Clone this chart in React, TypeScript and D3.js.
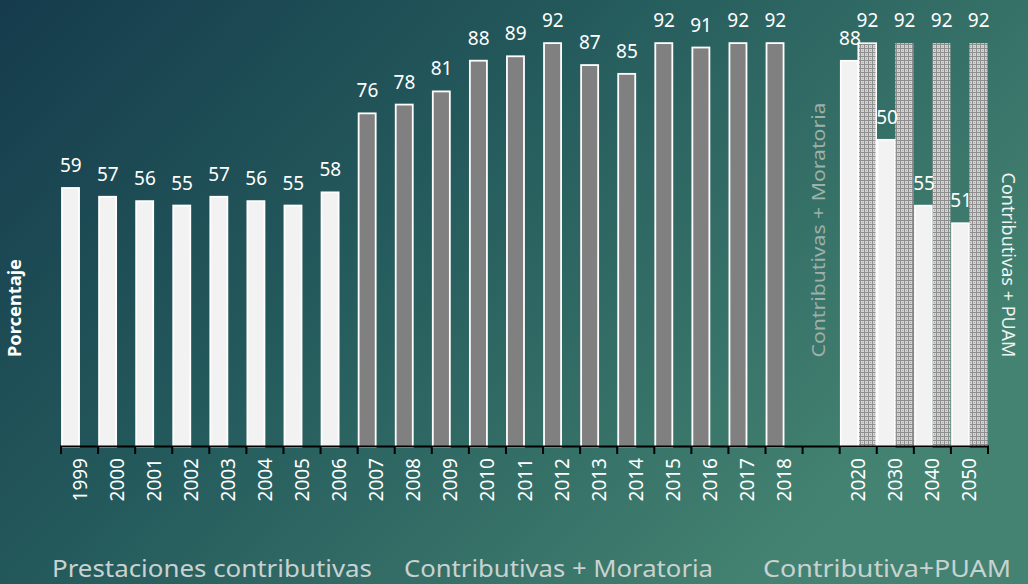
import React from "react";
import * as d3 from "d3";

const histYears = ["1999","2000","2001","2002","2003","2004","2005","2006","2007","2008","2009","2010","2011","2012","2013","2014","2015","2016","2017","2018"];
const histValues = [59,57,56,55,57,56,55,58,76,78,81,88,89,92,87,85,92,91,92,92];
const histPeriod = ["c","c","c","c","c","c","c","c","m","m","m","m","m","m","m","m","m","m","m","m"];
const projYears = ["2020","2030","2040","2050"];
const projMoratoria = [88,70,55,51];
const projMoratoriaLabels = ["88","50","55","51"];
const projPuam = [92,92,92,92];
const categories = [...histYears, "", ...projYears];
const yDomain = [0, 100];
const bottomLabels = ["Prestaciones contributivas", "Contributivas + Moratoria", "Contributiva+PUAM"];

export default function App() {
  const W = 1028, H = 584;
  const x = d3.scaleBand<string>().domain(categories).range([61, 988]).padding(0);
  const y = d3.scaleLinear().domain(yDomain).range([447, 8]);
  const bw = x.bandwidth();
  const half = bw / 2;
  const font = "'Noto Sans', 'Open Sans', sans-serif";

  const histBars = histYears.map((yr, i) => ({
    key: yr, x0: x(yr)! , v: histValues[i], label: String(histValues[i]),
    fill: histPeriod[i] === "c" ? "#f2f2f2" : "#808080",
  }));
  const projA = projYears.map((yr, i) => ({ key: yr + "a", x0: x(yr)!, v: projMoratoria[i], label: projMoratoriaLabels[i] }));
  const projB = projYears.map((yr, i) => ({ key: yr + "b", x0: x(yr)! + half, v: projPuam[i], label: String(projPuam[i]) }));

  const ticks = d3.range(categories.length + 1).map(i => 61 + i * bw);

  return (
    <svg width={W} height={H} style={{ position: "absolute", left: 0, top: 0, display: "block" }}>
      <defs>
        <linearGradient id="bg" x1="0" y1="0" x2="1" y2="0.55">
          <stop offset="0" stopColor="#153b4c" />
          <stop offset="0.45" stopColor="#245a5c" />
          <stop offset="1" stopColor="#448371" />
        </linearGradient>
        <pattern id="hatch" width="4" height="4" patternUnits="userSpaceOnUse">
          <rect width="4" height="4" fill="#d4d4d4" />
          <rect x="0" y="0" width="4" height="1" fill="#8e8e8e" />
          <rect x="0" y="0" width="1" height="4" fill="#8e8e8e" />
          <rect x="2" y="2" width="1" height="1" fill="#a6a6a6" />
        </pattern>
      </defs>
      <rect width={W} height={H} fill="url(#bg)" />

      {histBars.map(b => (
        <g key={b.key}>
          <rect x={b.x0 + 1} y={y(b.v)} width={half - 1.5} height={y(0) - y(b.v)} fill={b.fill} stroke="#ffffff" strokeWidth={1.8} />
          <text x={b.x0 + half / 2 + 0.5} y={y(b.v) - 16} textAnchor="middle" fill="#ffffff" fontFamily={font} fontSize={19}>{b.label}</text>
        </g>
      ))}

      {projB.map((b, i) => (
        <g key={b.key}>
          <rect x={b.x0} y={y(b.v)} width={half - 0.5} height={y(0) - y(b.v)} fill="url(#hatch)" stroke={i === 0 ? "#ffffff" : "none"} strokeWidth={1.5} />
        </g>
      ))}
      {projA.map(b => (
        <g key={b.key}>
          <rect x={b.x0 + 1} y={y(b.v)} width={half - 1.5} height={y(0) - y(b.v)} fill="#f2f2f2" stroke="#ffffff" strokeWidth={1.5} />
        </g>
      ))}
      {projB.map(b => (
        <text key={b.key + "t"} x={b.x0 + half / 2} y={y(b.v) - 16} textAnchor="middle" fill="#ffffff" fontFamily={font} fontSize={19}>{b.label}</text>
      ))}
      {projA.map(b => (
        <text key={b.key + "t"} x={b.x0 + half / 2 + 1} y={y(b.v) - 16} textAnchor="middle" fill="#ffffff" fontFamily={font} fontSize={19}>{b.label}</text>
      ))}

      <line x1={60} x2={989} y1={446.5} y2={446.5} stroke="#000000" strokeWidth={2} />
      {ticks.map((t, i) => (
        <line key={i} x1={t} x2={t} y1={446} y2={454} stroke="#000000" strokeWidth={2} />
      ))}
      {categories.map(c => c === "" ? null : (
        <text key={c} transform={`translate(${x(c)! + bw / 2 + 7},458) rotate(-90)`} textAnchor="end" fill="#ffffff" fontFamily={font} fontSize={19}>{c}</text>
      ))}

      <text transform="translate(21,308) rotate(-90)" textAnchor="middle" fill="#ffffff" fontFamily={font} fontSize={17} fontWeight="bold" textLength={98} lengthAdjust="spacingAndGlyphs">Porcentaje</text>

      <text transform="translate(825,230) rotate(-90)" textAnchor="middle" fill="#9db0aa" fontFamily={font} fontSize={18} textLength={255} lengthAdjust="spacingAndGlyphs">Contributivas + Moratoria</text>
      <text transform="translate(1002,265) rotate(90)" textAnchor="middle" fill="#eef3f1" fontFamily={font} fontSize={18} textLength={185} lengthAdjust="spacingAndGlyphs">Contributivas + PUAM</text>

      <text x={52} y={577} fill="#c9d2d0" fontFamily={font} fontSize={23} textLength={320} lengthAdjust="spacingAndGlyphs">{bottomLabels[0]}</text>
      <text x={404} y={577} fill="#c9d2d0" fontFamily={font} fontSize={23} textLength={309} lengthAdjust="spacingAndGlyphs">{bottomLabels[1]}</text>
      <text x={763} y={577} fill="#c9d2d0" fontFamily={font} fontSize={23} textLength={248} lengthAdjust="spacingAndGlyphs">{bottomLabels[2]}</text>
    </svg>
  );
}
